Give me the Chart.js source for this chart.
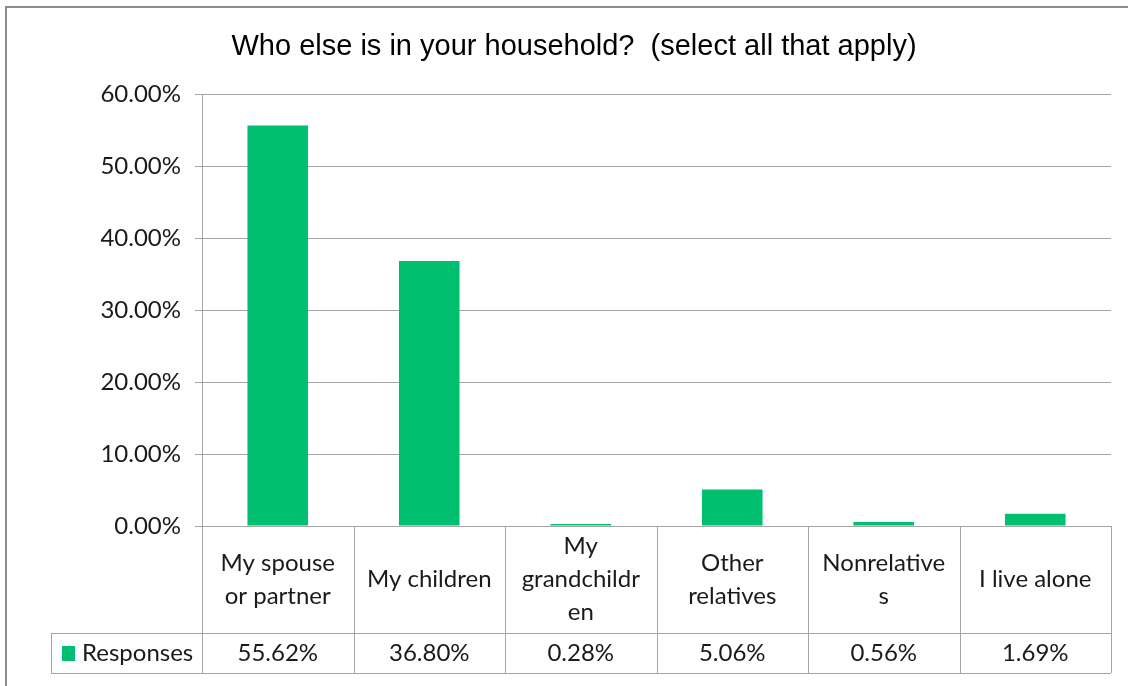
<!DOCTYPE html>
<html>
<head>
<meta charset="utf-8">
<title>Who else is in your household?</title>
<script src="https://cdn.jsdelivr.net/npm/chart.js@4/dist/chart.umd.min.js"></script>
<style>
  html, body { margin: 0; padding: 0; background: #fff; }
  #grafico { display: block; }
</style>
</head>
<body>
<canvas id="grafico" width="1128" height="686"></canvas>
<script>
const titulo = 'Who else is in your household?  (select all that apply)';
const categorias = [
    ['My spouse', 'or partner'],
    ['My children'],
    ['My', 'grandchildr', 'en'],
    ['Other', 'relatives'],
    ['Nonrelative', 's'],
    ['I live alone']
];
const serieNome = 'Responses';
const respostas = [55.62, 36.80, 0.28, 5.06, 0.56, 1.69];
const ticksY = [0, 10, 20, 30, 40, 50, 60];

const verde = '#00BF6F';
const cinza = '#a6a6a6';
const corTexto = '#1a1a1a';
const fonteRotulo = '"Lato", "Open Sans", sans-serif';

// moldura, titulo e tabela de dados abaixo do grafico
const tabelaPlugin = {
    id: 'tabela',
    afterDraw(chart) {
        const ctx = chart.ctx;
        const area = chart.chartArea;
        const x = chart.scales.x;
        const n = categorias.length;
        const larg = (area.right - area.left) / n;
        const topo = area.bottom;
        const meio = 633;
        const fundo = 673;
        const esq = 51;

        ctx.save();
        // moldura externa
        ctx.strokeStyle = '#8c8c8c';
        ctx.lineWidth = 2;
        ctx.beginPath();
        ctx.moveTo(6, 700);
        ctx.lineTo(6, 7);
        ctx.lineTo(1128, 7);
        ctx.stroke();

        // titulo
        ctx.fillStyle = '#000';
        ctx.font = '29px "Liberation Sans", Arial, sans-serif';
        ctx.textAlign = 'center';
        ctx.textBaseline = 'middle';
        ctx.fillText(titulo, 574, 47);

        // linhas da tabela
        ctx.strokeStyle = cinza;
        ctx.lineWidth = 1;
        ctx.beginPath();
        ctx.moveTo(esq, meio + 0.5);
        ctx.lineTo(area.right, meio + 0.5);
        ctx.moveTo(esq, fundo + 0.5);
        ctx.lineTo(area.right, fundo + 0.5);
        ctx.moveTo(esq + 0.5, meio);
        ctx.lineTo(esq + 0.5, fundo);
        for (let i = 0; i <= n; i++) {
            const xi = Math.round(area.left + i * larg) + 0.5;
            ctx.moveTo(xi, topo);
            ctx.lineTo(xi, fundo);
        }
        ctx.stroke();

        // rotulos das categorias e valores
        ctx.fillStyle = corTexto;
        ctx.font = '24px ' + fonteRotulo;
        const alturaLinha = 33;
        categorias.forEach((linhas, i) => {
            const cx = x.getPixelForValue(i);
            const cy = (topo + meio) / 2;
            const y0 = cy - (linhas.length - 1) * alturaLinha / 2;
            linhas.forEach((t, j) => ctx.fillText(t, cx, y0 + j * alturaLinha));
            ctx.fillText(respostas[i].toFixed(2) + '%', cx, (meio + fundo) / 2);
        });

        // legenda da serie
        const cyLeg = (meio + fundo) / 2;
        ctx.fillStyle = verde;
        ctx.fillRect(62, cyLeg - 7, 13, 15);
        ctx.fillStyle = corTexto;
        ctx.textAlign = 'left';
        ctx.fillText(serieNome, 82, cyLeg);
        ctx.restore();
    }
};

const ctx = document.getElementById('grafico').getContext('2d');
new Chart(ctx, {
    type: 'bar',
    data: {
        labels: categorias,
        datasets: [{
            label: serieNome,
            data: respostas,
            backgroundColor: verde,
            borderWidth: 0,
            categoryPercentage: 1,
            barPercentage: 0.4
        }]
    },
    options: {
        responsive: false,
        animation: false,
        devicePixelRatio: 1,
        layout: { padding: { top: 94, right: 17, bottom: 160, left: 0 } },
        plugins: {
            legend: { display: false },
            title: { display: false },
            tooltip: { enabled: false }
        },
        scales: {
            x: { display: false },
            y: {
                min: 0,
                max: 60,
                afterBuildTicks(scale) {
                    scale.ticks = ticksY.map(v => ({ value: v }));
                },
                afterFit(scale) { scale.width = 202; },
                ticks: {
                    padding: 14,
                    color: corTexto,
                    font: { family: fonteRotulo, size: 24 },
                    callback: v => v.toFixed(2) + '%'
                },
                grid: { color: cinza, lineWidth: 1, tickLength: 7 },
                border: { display: true, color: cinza, width: 1 }
            }
        }
    },
    plugins: [tabelaPlugin]
});
</script>
</body>
</html>
